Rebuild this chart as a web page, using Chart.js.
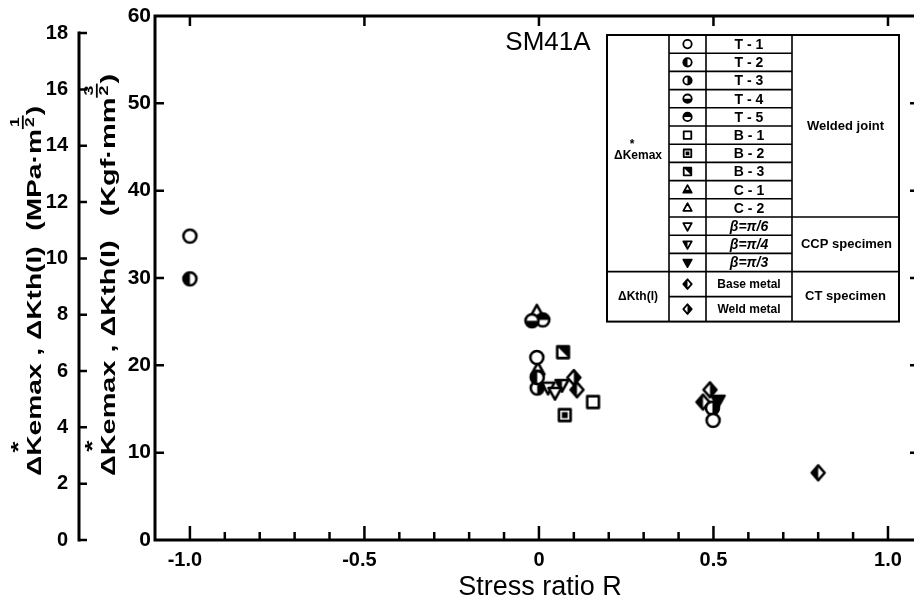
<!DOCTYPE html>
<html><head><meta charset="utf-8">
<script src="https://cdn.jsdelivr.net/npm/chart.js@4/dist/chart.umd.min.js"></script>
<style>html,body{margin:0;padding:0;background:#fff;overflow:hidden}#wrap{width:914px;height:603px;overflow:hidden;position:relative}</style>
</head><body><div id="wrap"><canvas id="c" width="930" height="603"></canvas></div>
<script>
// ---------- data ----------
const KGF_TO_MPA = 0.310114;
const xTickValues = [-1.0, -0.5, 0, 0.5, 1.0];
const xTickLabels = ['-1.0', '-0.5', '0', '0.5', '1.0'];
const xMinorTicks = [-0.9, -0.8, -0.7, -0.6, -0.4, -0.3, -0.2, -0.1, 0.1, 0.2, 0.3, 0.4, 0.6, 0.7, 0.8, 0.9];
const kgfTickValues = [0, 10, 20, 30, 40, 50, 60];
const kgfTickLabels = ['0', '10', '20', '30', '40', '50', '60'];
const mpaTickValues = [0, 2, 4, 6, 8, 10, 12, 14, 16, 18];
const mpaTickLabels = ['0', '2', '4', '6', '8', '10', '12', '14', '16', '18'];

const seriesNames = ['T - 1', 'T - 2', 'T - 3', 'T - 4', 'T - 5', 'B - 1', 'B - 2', 'B - 3', 'C - 1', 'C - 2',
  'β=π/6', 'β=π/4', 'β=π/3', 'Base metal', 'Weld metal'];
// stress ratio R and ΔK (kgf·mm^-3/2)
const t1R = [-1.0, -0.006, 0.499];  const t1K = [34.8, 20.9, 13.7];
const t2R = [-1.0, -0.005];         const t2K = [29.9, 18.6];
const t3R = [-0.005, 0.497];        const t3K = [17.4, 15.1];
const t4R = [-0.02];                const t4K = [25.1];
const t5R = [0.011];                const t5K = [25.2];
const b1R = [0.155];                const b1K = [15.8];
const b2R = [0.074];                const b2K = [14.3];
const b3R = [0.069];                const b3K = [21.5];
const c1R = [-0.003];               const c1K = [19.5];
const c2R = [-0.006];               const c2K = [26.1];
const beta6R = [0.026, 0.046];      const beta6K = [17.5, 16.9];
const beta4R = [0.066];             const beta4K = [17.8];
const beta3R = [0.513];             const beta3K = [16.0];
const baseR = [0.109, 0.47, 0.80];  const baseK = [17.2, 15.8, 7.7];
const weldR = [0.10, 0.49];         const weldK = [18.6, 17.2];

const seriesR = [t1R, t2R, t3R, t4R, t5R, b1R, b2R, b3R, c1R, c2R, beta6R, beta4R, beta3R, baseR, weldR];
const seriesK = [t1K, t2K, t3K, t4K, t5K, b1K, b2K, b3K, c1K, c2K, beta6K, beta4K, beta3K, baseK, weldK];
const seriesShape = ['circle', 'circle', 'circle', 'circle', 'circle', 'square', 'square', 'square', 'tri', 'tri',
  'itri', 'itri', 'itri', 'diamond', 'diamond'];
const seriesFill = ['none', 'L', 'R', 'B', 'T', 'none', 'C', 'TR', 'B', 'none', 'none', 'L', 'A', 'L', 'R'];

// ---------- marker drawing ----------
function shapePath(ctx, shape, x, y, r) {
  ctx.beginPath();
  if (shape === 'circle') { ctx.arc(x, y, r, 0, Math.PI * 2); }
  else if (shape === 'square') { const s = r * 0.9; ctx.rect(x - s, y - s, 2 * s, 2 * s); }
  else if (shape === 'tri') { ctx.moveTo(x, y - r * 1.1); ctx.lineTo(x + r, y + r * 0.7); ctx.lineTo(x - r, y + r * 0.7); ctx.closePath(); }
  else if (shape === 'itri') { ctx.moveTo(x, y + r * 1.1); ctx.lineTo(x + r, y - r * 0.7); ctx.lineTo(x - r, y - r * 0.7); ctx.closePath(); }
  else if (shape === 'diamond') { ctx.moveTo(x, y - r * 1.15); ctx.lineTo(x + r * 1.0, y); ctx.lineTo(x, y + r * 1.15); ctx.lineTo(x - r * 1.0, y); ctx.closePath(); }
}
function fillRegion(ctx, fill, x, y, r) {
  const R = r * 1.5;
  ctx.beginPath();
  if (fill === 'L') ctx.rect(x - R, y - R, R, 2 * R);
  else if (fill === 'R') ctx.rect(x, y - R, R, 2 * R);
  else if (fill === 'T') ctx.rect(x - R, y - R, 2 * R, R);
  else if (fill === 'B') ctx.rect(x - R, y, 2 * R, R);
  else if (fill === 'A') ctx.rect(x - R, y - R, 2 * R, 2 * R);
  else if (fill === 'C') ctx.rect(x - r * 0.45, y - r * 0.45, r * 0.9, r * 0.9);
  else if (fill === 'TR') { ctx.moveTo(x - R, y - R); ctx.lineTo(x + R, y - R); ctx.lineTo(x + R, y + R); ctx.closePath(); }
}
function drawMarker(ctx, shape, fill, x, y, r, lw) {
  ctx.save();
  ctx.lineWidth = lw; ctx.strokeStyle = '#000'; ctx.lineJoin = 'round';
  shapePath(ctx, shape, x, y, r);
  ctx.fillStyle = '#fff'; ctx.fill();
  if (fill !== 'none') {
    ctx.save();
    shapePath(ctx, shape, x, y, r); ctx.clip();
    fillRegion(ctx, fill, x, y, r); ctx.fillStyle = '#000'; ctx.fill();
    ctx.restore();
  }
  shapePath(ctx, shape, x, y, r); ctx.stroke();
  ctx.restore();
}
function markerCanvas(shape, fill, r, lw) {
  const size = Math.ceil(2 * r * 1.2 + lw + 4);
  const cv = document.createElement('canvas');
  cv.width = size; cv.height = size;
  drawMarker(cv.getContext('2d'), shape, fill, size / 2, size / 2, r, lw);
  return cv;
}

// ---------- datasets ----------
const datasets = seriesNames.map((name, i) => ({
  label: name,
  data: seriesR[i].map((r, j) => ({ x: r, y: seriesK[i][j] })),
  pointStyle: markerCanvas(seriesShape[i], seriesFill[i], 6.5, 2.6),
  pointRadius: 7,
  showLine: false
}));

const FONT = "'Liberation Sans', Arial, sans-serif";

// ---------- axes / annotation plugin ----------
const axesPlugin = {
  id: 'axes',
  beforeDatasetsDraw(chart) {
    const ctx = chart.ctx, xs = chart.scales.x, ys = chart.scales.y, ym = chart.scales.yMPa;
    const a = chart.chartArea;
    ctx.save();
    ctx.strokeStyle = '#000'; ctx.fillStyle = '#000';
    ctx.lineWidth = 3; ctx.lineCap = 'butt';
    // frame
    ctx.beginPath();
    ctx.moveTo(a.left, a.top - 1.5); ctx.lineTo(a.left, a.bottom + 1.5);
    ctx.moveTo(a.left - 1.5, a.bottom); ctx.lineTo(a.right, a.bottom);
    ctx.moveTo(a.left - 1.5, a.top); ctx.lineTo(a.right, a.top);
    ctx.moveTo(a.right, a.top); ctx.lineTo(a.right, a.bottom);
    ctx.stroke();
    ctx.lineWidth = 2.5;
    ctx.beginPath();
    // bottom ticks (inward)
    xTickValues.forEach(v => { const px = xs.getPixelForValue(v); ctx.moveTo(px, a.bottom); ctx.lineTo(px, a.bottom - 14); });
    xMinorTicks.forEach(v => { const px = xs.getPixelForValue(v); ctx.moveTo(px, a.bottom); ctx.lineTo(px, a.bottom - 8); });
    // top ticks
    xTickValues.forEach(v => { const px = xs.getPixelForValue(v); ctx.moveTo(px, a.top); ctx.lineTo(px, a.top + 10); });
    // left and right ticks
    kgfTickValues.forEach(v => {
      if (v === 0 || v === 60) return;
      const py = ys.getPixelForValue(v);
      ctx.moveTo(a.left, py); ctx.lineTo(a.left + 9, py);
      ctx.moveTo(a.right, py); ctx.lineTo(a.right - 8, py);
    });
    ctx.stroke();
    // MPa axis
    const mx = 79;
    const mTop = ym.getPixelForValue(mpaTickValues[mpaTickValues.length - 1]);
    ctx.lineWidth = 3;
    ctx.beginPath();
    ctx.moveTo(mx, mTop - 1.5); ctx.lineTo(mx, ym.getPixelForValue(0) + 1.5);
    ctx.stroke();
    ctx.lineWidth = 2.5;
    ctx.beginPath();
    mpaTickValues.forEach(v => { const py = ym.getPixelForValue(v); ctx.moveTo(mx, py); ctx.lineTo(mx + 8, py); });
    ctx.stroke();
    // tick labels
    ctx.font = 'bold 21px ' + FONT;
    ctx.textBaseline = 'middle'; ctx.textAlign = 'right';
    kgfTickValues.forEach((v, i) => ctx.fillText(kgfTickLabels[i], a.left - 4, ys.getPixelForValue(v)));
    ctx.font = 'bold 20px ' + FONT;
    mpaTickValues.forEach((v, i) => ctx.fillText(mpaTickLabels[i], mx - 11, ym.getPixelForValue(v)));
    ctx.font = 'bold 20px ' + FONT;
    ctx.textAlign = 'center';
    xTickValues.forEach((v, i) => {
      const lbl = xTickLabels[i];
      ctx.fillText(lbl, xs.getPixelForValue(v) - (lbl[0] === '-' ? 5 : 0), a.bottom + 20);
    });
    // x title
    ctx.font = '27px ' + FONT;
    ctx.fillText('Stress ratio R', 540, 588);
    // SM41A
    ctx.font = '26px ' + FONT;
    ctx.fillText('SM41A', 548, 43);
    // rotated titles
    drawRotTitle(ctx, 35, 476, 'ΔK', '*', 'emax , ΔKth(I)  (MPa·m', ['1', '2'], ')', 21, 370);
    drawRotTitle(ctx, 109, 476, 'ΔK', '*', 'emax , ΔKth(I)   (Kgf·mm', ['3', '2'], ')', 21, 402);
    ctx.restore();
  },
  afterDatasetsDraw(chart) {
    drawTable(chart.ctx);
  }
};

function drawRotTitle(ctx, x, y, p1, star, p2, frac, p3, size, target) {
  ctx.save();
  ctx.translate(x, y); ctx.rotate(-Math.PI / 2);
  ctx.textAlign = 'left'; ctx.textBaseline = 'middle'; ctx.fillStyle = '#000'; ctx.strokeStyle = '#000';
  const big = 'bold ' + size + 'px ' + FONT;
  const small = 'bold ' + Math.round(size * 0.6) + 'px ' + FONT;
  ctx.font = big;
  const w1 = ctx.measureText(p1).width, w2 = ctx.measureText(p2).width, w3 = ctx.measureText(p3).width;
  ctx.font = small;
  const wf = Math.max(ctx.measureText(frac[0]).width, ctx.measureText(frac[1]).width) + 3;
  const total = w1 + w2 + wf + w3;
  ctx.scale(target / total, 1);
  ctx.font = big;
  ctx.fillText(p1, 0, 0);
  const wD = ctx.measureText('Δ').width, wK = ctx.measureText('K').width;
  ctx.textAlign = 'center';
  ctx.fillText(star, wD + wK / 2 - 1, -size * 0.75);
  ctx.textAlign = 'left';
  let cx = w1;
  ctx.fillText(p2, cx, 0);
  cx += w2;
  // stacked fraction exponent
  ctx.font = small; ctx.textAlign = 'center';
  ctx.fillText(frac[0], cx + wf / 2, -size * 0.95);
  ctx.fillText(frac[1], cx + wf / 2, -size * 0.2);
  ctx.lineWidth = 1.8;
  ctx.beginPath(); ctx.moveTo(cx, -size * 0.58); ctx.lineTo(cx + wf, -size * 0.58); ctx.stroke();
  cx += wf;
  ctx.font = big; ctx.textAlign = 'left';
  ctx.fillText(p3, cx, 0);
  ctx.restore();
}

function drawTable(ctx) {
  const cols = [607, 669, 706, 792, 899];
  const top = 35;
  const rowH = [];
  for (let i = 0; i < 13; i++) rowH.push(18.2);
  rowH.push(25, 25);
  const rowY = [top];
  rowH.forEach(h => rowY.push(rowY[rowY.length - 1] + h));
  const bottom = rowY[rowY.length - 1];
  ctx.save();
  ctx.fillStyle = '#fff';
  ctx.fillRect(cols[0], top, cols[4] - cols[0], bottom - top);
  ctx.strokeStyle = '#000';
  ctx.lineWidth = 2;
  ctx.strokeRect(cols[0], top, cols[4] - cols[0], bottom - top);
  ctx.lineWidth = 1.6;
  ctx.beginPath();
  [1, 2, 3].forEach(c => { ctx.moveTo(cols[c], top); ctx.lineTo(cols[c], bottom); });
  for (let r = 1; r < 15; r++) { ctx.moveTo(cols[1], rowY[r]); ctx.lineTo(cols[3], rowY[r]); }
  ctx.moveTo(cols[3], rowY[10]); ctx.lineTo(cols[4], rowY[10]);
  ctx.moveTo(cols[3], rowY[13]); ctx.lineTo(cols[4], rowY[13]);
  ctx.moveTo(cols[0], rowY[13]); ctx.lineTo(cols[1], rowY[13]);
  ctx.stroke();
  ctx.fillStyle = '#000';
  ctx.textBaseline = 'middle'; ctx.textAlign = 'center';
  for (let r = 0; r < 15; r++) {
    const cy = (rowY[r] + rowY[r + 1]) / 2;
    drawMarker(ctx, seriesShape[r], seriesFill[r], (cols[1] + cols[2]) / 2, cy, 4.2, 1.8);
    const name = seriesNames[r];
    ctx.font = (name.startsWith('β') ? 'italic bold ' : 'bold ') + (name.length > 6 ? 12 : 14) + 'px ' + FONT;
    ctx.fillText(name, (cols[2] + cols[3]) / 2, cy + 1);
  }
  ctx.font = 'bold 13px ' + FONT;
  ctx.fillText('Welded joint', (cols[3] + cols[4]) / 2, (rowY[0] + rowY[10]) / 2);
  ctx.fillText('CCP specimen', (cols[3] + cols[4]) / 2 + 1, (rowY[10] + rowY[13]) / 2);
  ctx.fillText('CT specimen', (cols[3] + cols[4]) / 2, (rowY[13] + rowY[15]) / 2);
  ctx.font = 'bold 12px ' + FONT;
  ctx.fillText('ΔKemax', (cols[0] + cols[1]) / 2, (rowY[0] + rowY[13]) / 2 + 2);
  ctx.fillText('*', (cols[0] + cols[1]) / 2 - 6, (rowY[0] + rowY[13]) / 2 - 9);
  ctx.fillText('ΔKth(I)', (cols[0] + cols[1]) / 2, (rowY[13] + rowY[15]) / 2);
  ctx.restore();
}

new Chart(document.getElementById('c'), {
  type: 'scatter',
  data: { datasets },
  options: {
    responsive: false, animation: false, devicePixelRatio: 1,
    layout: { padding: { left: 155, top: 16, right: 12, bottom: 63 } },
    scales: {
      x: { type: 'linear', min: -1.1, max: 1.086, display: false },
      y: { type: 'linear', min: 0, max: 60, display: false },
      yMPa: { type: 'linear', min: 0, max: 60 * KGF_TO_MPA, display: false }
    },
    plugins: { legend: { display: false }, tooltip: { enabled: false } },
    elements: { point: { radius: 7 } }
  },
  plugins: [axesPlugin]
});
</script>
</body></html>
